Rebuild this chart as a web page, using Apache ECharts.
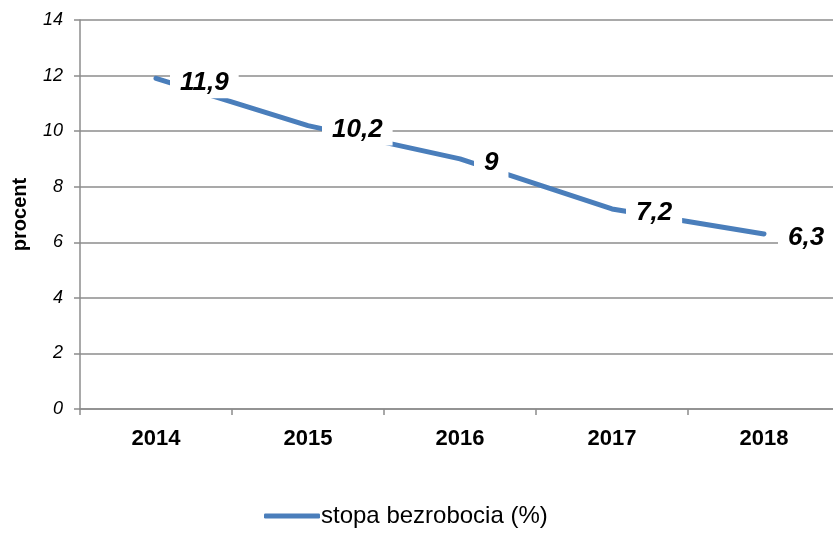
<!DOCTYPE html>
<html>
<head>
<meta charset="utf-8">
<script src="https://cdn.jsdelivr.net/npm/echarts@6/dist/echarts.min.js"></script>
<style>
  html, body { margin: 0; padding: 0; background: #fff; }
  #main { width: 833px; height: 533px; }
</style>
</head>
<body>
<div id="main"></div>
<script>
// dane
var years = ['2014', '2015', '2016', '2017', '2018'];
var stopa = [11.9, 10.2, 9, 7.2, 6.3];
var seriesName = 'stopa bezrobocia (%)';

var chart = echarts.init(document.getElementById('main'));
var font = 'Liberation Sans, Arial, sans-serif';
var blue = '#4a7ebb';

var option = {
    animation: false,
    // wykres wychodzi lekko poza prawą krawędź, jak w oryginale
    grid: { left: 80, right: -7, top: 20, bottom: 124, outerBoundsMode: 'none', containLabel: false },
    legend: {
        bottom: 0,
        left: 259,
        icon: 'roundRect',
        itemWidth: 56,
        itemHeight: 5,
        itemGap: 0,
        itemStyle: { color: blue, opacity: 1 },
        textStyle: { fontFamily: font, fontSize: 24, color: '#000', padding: [0, 0, 0, -4] },
        data: [seriesName]
    },
    xAxis: {
        type: 'category',
        data: years,
        boundaryGap: true,
        axisLine: { lineStyle: { color: '#8c8c8c', width: 1.5 } },
        axisTick: { show: true, length: 6, interval: 0, lineStyle: { color: '#8c8c8c', width: 1.5 } },
        axisLabel: { fontFamily: font, fontSize: 22, fontWeight: 'bold', color: '#000', margin: 19 }
    },
    yAxis: {
        type: 'value',
        min: 0,
        max: 14,
        interval: 2,
        name: 'procent',
        nameLocation: 'middle',
        nameGap: 50,
        nameTextStyle: { fontFamily: font, fontSize: 20, fontWeight: 'bold', color: '#000' },
        axisLine: { show: true, lineStyle: { color: '#8c8c8c', width: 1.5 } },
        axisTick: { show: true, length: 6, lineStyle: { color: '#8c8c8c', width: 1.5 } },
        axisLabel: {
            fontFamily: font, fontSize: 18, fontStyle: 'italic', color: '#000', margin: 17
        },
        splitLine: { lineStyle: { color: '#8c8c8c', width: 1.5 } }
    },
    series: [{
        name: seriesName,
        type: 'line',
        data: stopa,
        symbol: 'circle',
        symbolSize: 2,
        showSymbol: true,
        lineStyle: { color: blue, width: 5, cap: 'round' },
        itemStyle: { color: 'rgba(0,0,0,0)' },
        labelLayout: { hideOverlap: false },
        label: {
            show: true,
            position: [15, -11],
            backgroundColor: '#fff',
            padding: [3, 10, 3, 10],
            fontFamily: font,
            fontSize: 26,
            fontWeight: 'bold',
            fontStyle: 'italic',
            color: '#000',
            formatter: function (p) {
                return String(p.value).replace('.', ',');
            }
        }
    }]
};

chart.setOption(option);
</script>
</body>
</html>
